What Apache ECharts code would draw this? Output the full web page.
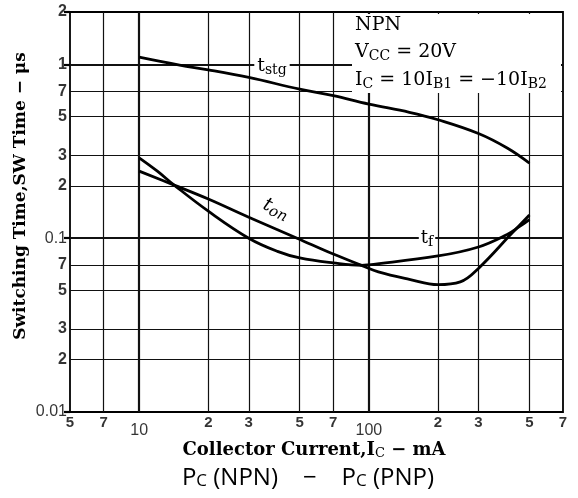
<!DOCTYPE html>
<html><head><meta charset="utf-8">
<script src="https://cdn.jsdelivr.net/npm/echarts/dist/echarts.min.js"></script>
<style>html,body{margin:0;padding:0;background:#fff}#c{width:578px;height:498px}</style>
</head><body><div id="c"></div>
<script>
// ---- data ----
const xTicks = [5, 7, 10, 20, 30, 50, 70, 100, 200, 300, 500, 700];
const xTickLabels = ['5', '7', '10', '2', '3', '5', '7', '100', '2', '3', '5', '7'];
const yTicks = [0.01, 0.02, 0.03, 0.05, 0.07, 0.1, 0.2, 0.3, 0.5, 0.7, 1, 2];
const yTickLabels = ['0.01', '2', '3', '5', '7', '0.1', '2', '3', '5', '7', '1', '2'];
const tstg = [[10, 1.10], [15, 0.99], [20, 0.93], [30, 0.84], [50, 0.72], [70, 0.66], [100, 0.59], [150, 0.53], [200, 0.48], [300, 0.40], [400, 0.33], [500, 0.27]];
const ton = [[10, 0.243], [14.2, 0.202], [20, 0.168], [30, 0.132], [48.7, 0.10], [70, 0.081], [93, 0.0697], [110, 0.064], [150, 0.058], [200, 0.054], [250, 0.056], [300, 0.067], [420, 0.107], [500, 0.136]];
const tf = [[10, 0.29], [12, 0.243], [14.2, 0.202], [20, 0.143], [30, 0.10], [40, 0.084], [50, 0.077], [70, 0.072], [93, 0.0697], [100, 0.0703], [200, 0.079], [300, 0.089], [400, 0.105], [450, 0.116], [500, 0.128]];

const isMajor = v => Math.abs(Math.log10(v) - Math.round(Math.log10(v))) < 1e-9;
const SERIF = '"DejaVu Serif", "Liberation Serif", serif';
const SANS = '"Liberation Sans", Arial, sans-serif';
const OSANS = '"Open Sans", "Noto Sans", sans-serif';

const gridLines = [];
xTicks.slice(1, -1).forEach(v => gridLines.push({ xAxis: v, lineStyle: { color: '#111', type: 'solid', width: isMajor(v) ? 2.2 : 1.2 } }));
yTicks.slice(1, -1).forEach(v => gridLines.push({ yAxis: v, lineStyle: { color: '#111', type: 'solid', width: isMajor(v) ? 2.2 : 1.2 } }));

const xLabelData = xTicks.map((v, i) => {
  const t = xTickLabels[i];
  const big = t.length > 1;
  return { value: [v, 0.01], label: { formatter: t, fontWeight: big ? 'normal' : 'bold', fontSize: big ? 16 : 15, offset: [0, big ? 8 : 0] } };
});
const yLabelData = yTicks.map((v, i) => {
  const t = yTickLabels[i];
  const big = t.length > 1;
  return { value: [5, v], label: { formatter: t, fontWeight: big ? 'normal' : 'bold', fontSize: 16 } };
});

const subStyle = (fs, extra) => Object.assign({ fontSize: fs, fontFamily: SERIF, verticalAlign: 'bottom', padding: [8, 0, 0, 0] }, extra || {});
const curveStyle = { color: '#000', width: 2.8 };
const chart = echarts.init(document.getElementById('c'));
chart.setOption({
  animation: false,
  backgroundColor: '#fff',
  grid: { left: 70, right: 15, top: 12, bottom: 86, show: true, borderColor: '#000', borderWidth: 1.8, backgroundColor: 'transparent' },
  xAxis: { type: 'log', logBase: 10, min: 5, max: 700, axisLine: { show: false }, axisTick: { show: false }, axisLabel: { show: false }, splitLine: { show: false } },
  yAxis: { type: 'log', logBase: 10, min: 0.01, max: 2, axisLine: { show: false },
    axisTick: { show: true, length: 6, lineStyle: { color: '#000', width: 2.2 } }, axisLabel: { show: false }, splitLine: { show: false } },
  series: [
    { type: 'scatter', symbolSize: 0, clip: false, silent: true, z: 1, data: xLabelData,
      label: { show: true, position: 'bottom', distance: 3, color: '#000', fontFamily: SANS },
      markLine: { silent: true, symbol: 'none', label: { show: false }, data: gridLines, animation: false } },
    { type: 'scatter', symbolSize: 0, clip: false, silent: true, z: 1, data: yLabelData,
      label: { show: true, position: 'left', distance: 3, color: '#000', fontFamily: SANS } },
    { name: 'tstg', type: 'line', data: tstg, smooth: 0.4, showSymbol: false, lineStyle: curveStyle, z: 5 },
    { name: 'ton', type: 'line', data: ton, smooth: 0.4, showSymbol: false, lineStyle: curveStyle, z: 5 },
    { name: 'tf', type: 'line', data: tf, smooth: 0.4, showSymbol: false, lineStyle: curveStyle, z: 5 }
  ],
  graphic: [
    { type: 'rect', z: 50, shape: { x: 352, y: 14, width: 209, height: 79 }, style: { fill: '#fff' } },
    { type: 'text', z: 100, left: 355, top: 16, style: { text: 'NPN', font: '19px ' + SERIF, fill: '#000' } },
    { type: 'text', z: 100, left: 355, top: 43, style: { text: 'V{s|CC} = 20V', fill: '#000', font: '19px ' + SERIF, rich: { s: subStyle(14) } } },
    { type: 'text', z: 100, left: 355, top: 71, style: { text: 'I{s|C} = 10I{s|B1} = −10I{s|B2}', fill: '#000', font: '19px ' + SERIF, rich: { s: subStyle(14) } } },
    { type: 'text', z: 100, x: 272, y: 66, style: { text: 't{s|stg}', fill: '#000', font: '19px ' + SERIF, align: 'center', verticalAlign: 'middle',
        backgroundColor: '#fff', padding: [0, 3], rich: { s: subStyle(14) } } },
    { type: 'text', z: 100, x: 276, y: 209, rotation: -0.42, style: { text: 't{s|on}', fill: '#000', font: 'italic 19px ' + SERIF, align: 'center', verticalAlign: 'middle',
        rich: { s: subStyle(15, { fontStyle: 'italic' }) } } },
    { type: 'text', z: 100, x: 427, y: 238, style: { text: 't{s|f}', fill: '#000', font: '18px ' + SERIF, align: 'center', verticalAlign: 'middle',
        backgroundColor: '#fff', padding: [0, 2], rich: { s: subStyle(14) } } },
    { type: 'text', z: 100, x: 21, y: 196, rotation: Math.PI / 2, style: { text: 'Switching Time,SW Time − μs', fill: '#000', font: 'bold 17px ' + SERIF, align: 'center', verticalAlign: 'middle' } },
    { type: 'text', z: 100, x: 314, y: 450, style: { text: 'Collector Current,I{s|C} − mA', fill: '#000', font: 'bold 18px ' + SERIF, align: 'center', verticalAlign: 'middle',
        rich: { s: subStyle(13, { fontWeight: 'normal', padding: [8, 0, 0, 0] }) } } },
    { type: 'text', z: 100, x: 308, y: 478, style: { text: 'P{p|C} (NPN)    −    P{p|C} (PNP)', fill: '#000', font: '24px ' + OSANS, align: 'center', verticalAlign: 'middle',
        rich: { p: { fontSize: 17, fontFamily: OSANS, verticalAlign: 'bottom', padding: [6, 0, 0, 0] } } } }
  ]
});
</script></body></html>
